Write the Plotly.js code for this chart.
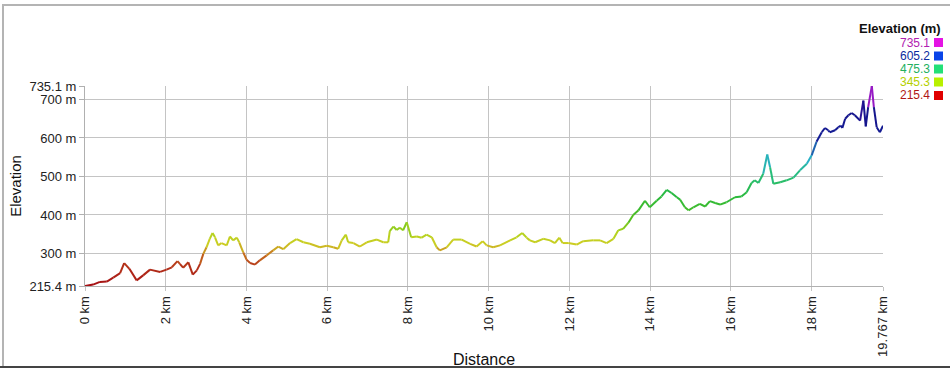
<!DOCTYPE html>
<html>
<head>
<meta charset="utf-8">
<script src="https://cdn.plot.ly/plotly-3.0.1.min.js"></script>
<style>
html,body{margin:0;padding:0;background:#fff;}
#wrap{position:relative;width:950px;height:368px;overflow:hidden;}
#chart{position:absolute;left:0;top:0;width:950px;height:368px;}
#frame{position:absolute;left:2px;top:4px;width:960px;height:362px;border-top:2px solid #b4b4b4;border-left:2px solid #b4b4b4;box-sizing:border-box;pointer-events:none;}
#bottom{position:absolute;left:0;top:366px;width:950px;height:2px;background:#444;}
</style>
</head>
<body>
<div id="wrap"><div id="chart"></div><div id="frame"></div><div id="bottom"></div></div>
<script>
// Distance along route (km)
const distanceKm = [0, 0.2, 0.37, 0.54, 0.7, 0.87, 0.97, 1.1, 1.28, 1.44, 1.61, 1.86, 2.02, 2.15, 2.29, 2.35, 2.43, 2.56, 2.67, 2.77, 2.85, 2.93, 3.01, 3.09, 3.16, 3.22, 3.3, 3.38, 3.51, 3.59, 3.67, 3.76, 3.82, 3.92, 4.0, 4.09, 4.21, 4.33, 4.5, 4.66, 4.79, 4.91, 5.08, 5.24, 5.41, 5.57, 5.82, 5.99, 6.15, 6.27, 6.36, 6.46, 6.52, 6.65, 6.81, 6.98, 7.23, 7.39, 7.51, 7.55, 7.64, 7.72, 7.8, 7.88, 7.97, 8.08, 8.22, 8.34, 8.46, 8.59, 8.71, 8.79, 8.96, 9.12, 9.33, 9.54, 9.7, 9.85, 9.95, 10.11, 10.28, 10.53, 10.69, 10.83, 10.94, 11.02, 11.15, 11.35, 11.52, 11.64, 11.75, 11.83, 11.97, 12.18, 12.34, 12.59, 12.76, 12.92, 13.09, 13.21, 13.33, 13.46, 13.58, 13.71, 13.87, 13.99, 14.16, 14.28, 14.41, 14.53, 14.66, 14.74, 14.86, 14.95, 15.07, 15.23, 15.36, 15.48, 15.61, 15.73, 15.89, 16.1, 16.26, 16.39, 16.51, 16.59, 16.68, 16.8, 16.9, 16.97, 17.05, 17.22, 17.38, 17.55, 17.71, 17.88, 18.0, 18.12, 18.25, 18.33, 18.41, 18.45, 18.58, 18.66, 18.72, 18.76, 18.83, 18.91, 18.99, 19.07, 19.2, 19.28, 19.34, 19.4, 19.49, 19.54, 19.61, 19.69, 19.767];
// Elevation (m)
const elevationM = [215.4, 219, 226, 227, 237, 249, 275, 260, 230, 243, 258, 252, 258, 264, 280, 273, 263, 277, 245, 256, 273, 299, 316, 338, 353, 342, 321, 327, 321, 344, 334, 341, 329, 303, 284, 275, 271, 282, 295, 308, 318, 311, 327, 337, 329, 325, 316, 320, 316, 312, 334, 349, 329, 327, 318, 329, 336, 329, 329, 358, 370, 361, 367, 360, 381, 342, 344, 341, 349, 342, 316, 308, 316, 336, 336, 325, 318, 332, 321, 316, 321, 334, 342, 353, 341, 334, 329, 338, 334, 327, 341, 327, 327, 323, 332, 334, 334, 327, 338, 360, 364, 380, 400, 412, 437, 420, 437, 448, 465, 457, 446, 440, 420, 412, 420, 429, 422, 436, 431, 427, 433, 446, 448, 459, 483, 490, 483, 507, 557, 524, 481, 485, 490, 497, 516, 533, 555, 590, 615, 626, 620, 615, 620, 628, 632, 626, 650, 659, 665, 659, 645, 697, 630, 680, 735.1, 680, 628, 615, 632];

const xTickVals = [0, 2, 4, 6, 8, 10, 12, 14, 16, 18, 19.767];
const xTickText = ["0 km", "2 km", "4 km", "6 km", "8 km", "10 km", "12 km", "14 km", "16 km", "18 km", "19.767 km"];
const yTickVals = [215.4, 300, 400, 500, 600, 700, 735.1];
const yTickText = ["215.4 m", "300 m", "400 m", "500 m", "600 m", "700 m", "735.1 m"];

const legendValues = ["735.1", "605.2", "475.3", "345.3", "215.4"];
const legendTextColors = ["#b020b0", "#0a2aa0", "#22b060", "#b4d000", "#b01515"];
const legendSwatchColors = ["#e414e4", "#0a44e8", "#22e078", "#b8f000", "#e00000"];

// colour ramp for the line
const stops = [
  [0.00, [165, 15, 20]],
  [0.10, [180, 50, 25]],
  [0.16, [200, 120, 30]],
  [0.21, [205, 205, 35]],
  [0.27, [175, 212, 30]],
  [0.33, [85, 190, 30]],
  [0.45, [40, 185, 60]],
  [0.55, [40, 190, 120]],
  [0.64, [40, 175, 205]],
  [0.73, [20, 30, 150]],
  [0.86, [20, 20, 140]],
  [1.00, [230, 30, 230]]
];
const zMin = 215.4, zMax = 735.1;
function colorFor(z) {
  let t = (z - zMin) / (zMax - zMin);
  t = Math.max(0, Math.min(1, t));
  for (let i = 1; i < stops.length; i++) {
    if (t <= stops[i][0]) {
      const a = stops[i - 1], b = stops[i];
      const f = (t - a[0]) / (b[0] - a[0]);
      const c = a[1].map((v, k) => Math.round(v + (b[1][k] - v) * f));
      return "rgb(" + c.join(",") + ")";
    }
  }
  return "rgb(230,30,230)";
}

const traces = [];
for (let i = 0; i < distanceKm.length - 1; i++) {
  traces.push({
    type: "scatter", mode: "lines",
    x: [distanceKm[i], distanceKm[i + 1]],
    y: [elevationM[i], elevationM[i + 1]],
    line: {color: colorFor((elevationM[i] + elevationM[i + 1]) / 2), width: 2},
    hoverinfo: "skip", showlegend: false
  });
}

const L = 85, R = 67, T = 85.5, B = 82.4, W = 950, H = 368;
const pw = W - L - R, ph = H - T - B;
function px2x(px) { return (px - L) / pw; }
function py2y(py) { return (H - B - py) / ph; }

const annotations = [{
  xref: "paper", yref: "paper", x: px2x(942), y: py2y(28), xanchor: "right", yanchor: "middle",
  text: "<b>Elevation (m)</b>", showarrow: false, borderpad: 0,
  font: {family: "Liberation Sans, Arial, sans-serif", size: 13, color: "#111"}
}];
const shapes = [];
const rowY = [42, 55.5, 68.5, 81.5, 95];
legendValues.forEach((v, i) => {
  annotations.push({
    xref: "paper", yref: "paper", x: px2x(931), y: py2y(rowY[i]), xanchor: "right", yanchor: "middle",
    text: v, showarrow: false, borderpad: 0,
    font: {family: "Liberation Sans, Arial, sans-serif", size: 12, color: legendTextColors[i]}
  });
  shapes.push({
    type: "rect", xref: "paper", yref: "paper",
    x0: px2x(934), x1: px2x(943), y0: py2y(rowY[i] + 4.5), y1: py2y(rowY[i] - 4.5),
    fillcolor: legendSwatchColors[i], line: {color: legendSwatchColors[i], width: 0}
  });
});

const layout = {
  width: W, height: H,
  margin: {l: L, r: R, t: T, b: B, pad: 0},
  paper_bgcolor: "rgba(0,0,0,0)", plot_bgcolor: "#fff",
  showlegend: false,
  font: {family: "Liberation Sans, Arial, sans-serif", size: 13, color: "#222"},
  xaxis: {
    range: [0, 19.767], tickvals: xTickVals, ticktext: xTickText, tickangle: -90,
    showgrid: true, gridcolor: "#c4c4c4", gridwidth: 1,
    showline: true, linecolor: "#b0b0b0", linewidth: 1,
    zeroline: false, ticks: "outside", ticklen: 4, tickcolor: "#c4c4c4",
    tickfont: {size: 13, color: "#222"},
    title: {text: "Distance", font: {family: "Liberation Sans Narrow, Liberation Sans, Arial, sans-serif", size: 16, color: "#111"}, standoff: 4},
    automargin: false, fixedrange: true
  },
  yaxis: {
    range: [215.4, 735.1], tickvals: yTickVals, ticktext: yTickText,
    showgrid: true, gridcolor: "#c4c4c4", gridwidth: 1,
    showline: true, linecolor: "#b0b0b0", linewidth: 1,
    zeroline: false, ticks: "outside", ticklen: 5, tickcolor: "#b0b0b0",
    tickfont: {size: 13, color: "#222"},
    title: {text: "Elevation", font: {family: "Liberation Sans, Arial, sans-serif", size: 15, color: "#111"}, standoff: 4},
    automargin: false, fixedrange: true
  },
  annotations: annotations,
  shapes: shapes
};

Plotly.newPlot("chart", traces, layout, {displayModeBar: false, staticPlot: true});
</script>
</body>
</html>
